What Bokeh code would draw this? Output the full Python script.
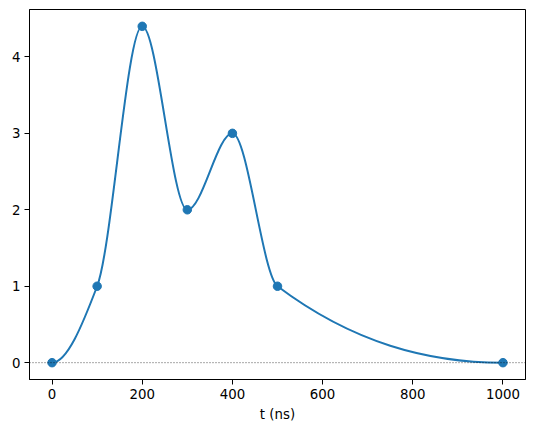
import numpy as np
from bokeh.plotting import figure
from bokeh.models import Range1d, FixedTicker, Span
from bokeh.embed import file_html
from bokeh.resources import INLINE

# data points (t in ns, amplitude)
t_points = [0, 100, 200, 300, 400, 500, 1000]
amp_points = [0, 1, 4.4, 2, 3, 1, 0]
x_ticks = [0, 200, 400, 600, 800, 1000]
y_ticks = [0, 1, 2, 3, 4]

# shape-preserving (PCHIP) derivatives at the knots
x = np.array(t_points, dtype=float)
y = np.array(amp_points, dtype=float)
h = np.diff(x)
delta = np.diff(y) / h
n = len(x)
d = np.zeros(n)
for k in range(1, n - 1):
    if delta[k - 1] * delta[k] > 0:
        w1 = 2 * h[k] + h[k - 1]
        w2 = h[k] + 2 * h[k - 1]
        d[k] = (w1 + w2) / (w1 / delta[k - 1] + w2 / delta[k])

def edge(h0, h1, m0, m1):
    dd = ((2 * h0 + h1) * m0 - h0 * m1) / (h0 + h1)
    if np.sign(dd) != np.sign(m0):
        dd = 0.0
    elif np.sign(m0) != np.sign(m1) and abs(dd) > abs(3 * m0):
        dd = 3 * m0
    return dd

d[0] = edge(h[0], h[1], delta[0], delta[1])
d[-1] = edge(h[-1], h[-2], delta[-1], delta[-2])

x0 = x[:-1]; y0 = y[:-1]; x1 = x[1:]; y1 = y[1:]
cx0 = x0 + h / 3; cy0 = y0 + d[:-1] * h / 3
cx1 = x1 - h / 3; cy1 = y1 - d[1:] * h / 3

p = figure(frame_width=496, frame_height=370,
           min_border_left=29, min_border_right=9,
           min_border_top=9, min_border_bottom=53,
           x_range=Range1d(-50, 1050), y_range=Range1d(-0.22, 4.62),
           output_backend="svg", toolbar_location=None)

p.add_layout(Span(location=0, dimension="width", line_color="black",
                  line_width=0.7, line_dash="1 2", line_alpha=1))

p.bezier(x0=x0, y0=y0, x1=x1, y1=y1, cx0=cx0, cy0=cy0, cx1=cx1, cy1=cy1,
         line_color="#1f77b4", line_width=2)
p.scatter(t_points, amp_points, size=8.5, color="#1f77b4")

p.xgrid.visible = False
p.ygrid.visible = False
p.outline_line_color = "black"
p.outline_line_width = 1
p.outline_line_alpha = 1

p.xaxis.ticker = FixedTicker(ticks=x_ticks)
p.yaxis.ticker = FixedTicker(ticks=y_ticks)
p.xaxis.axis_label = "t (ns)"
for ax in (p.xaxis, p.yaxis):
    ax.minor_tick_line_color = None
    ax.major_tick_out = 5
    ax.major_tick_in = 0
    ax.major_tick_line_color = "black"
    ax.axis_line_color = "black"
    ax.major_label_text_font = "DejaVu Sans"
    ax.major_label_text_font_size = "13.33px"
    ax.major_label_text_color = "black"
    ax.major_label_standoff = 4
    ax.axis_label_text_font = "DejaVu Sans"
    ax.axis_label_text_font_size = "13.33px"
    ax.axis_label_text_font_style = "normal"
    ax.axis_label_text_color = "black"
    ax.axis_label_standoff = 5

open("out.html", "w").write(file_html(p, INLINE))
